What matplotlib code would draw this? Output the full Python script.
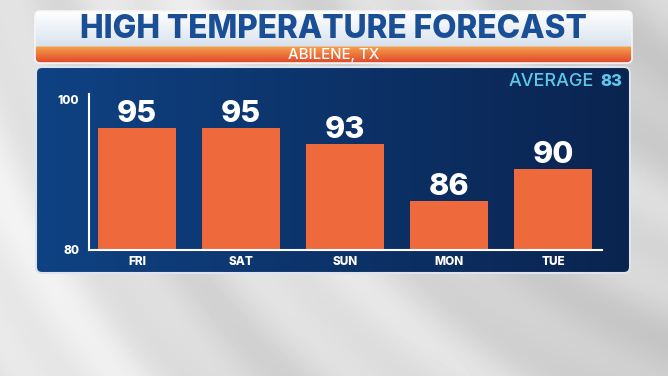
import numpy as np
import matplotlib.pyplot as plt
from matplotlib.patches import FancyBboxPatch
from matplotlib.colors import to_rgb
from matplotlib.transforms import ScaledTranslation

# ─── Data ─────────────────────────────────────────────────────────────────────
days = ["FRI", "SAT", "SUN", "MON", "TUE"]
highs = [95, 95, 93, 86, 90]
avg_high = 83
y_ticks = [80, 100]
title = "HIGH TEMPERATURE FORECAST"
city = "ABILENE, TX"

FONT = "Inter"
W, H = 668, 376


def blend(c1, c2, t):
    c1, c2 = np.array(to_rgb(c1)), np.array(to_rgb(c2))
    t = np.asarray(t)[..., None]
    return c1 * (1 - t) + c2 * t


fig = plt.figure(figsize=(W / 100, H / 100), dpi=100)

# ─── Backdrop (pixel coordinates) ─────────────────────────────────────────────
bg = fig.add_axes([0, 0, 1, 1])
bg.set_xlim(0, W)
bg.set_ylim(H, 0)
bg.axis("off")

xx, yy = np.meshgrid(np.linspace(0, W, 334), np.linspace(0, H, 188))
r = np.hypot(xx - 900, yy + 250)
shade = 0.90 - 0.08 * (xx / W) + 0.035 * np.sin(r / 38.0) + 0.02 * np.sin(r / 13.0)
bg.imshow(np.clip(shade, 0, 1), cmap="gray", vmin=0, vmax=1,
          extent=(0, W, H, 0), aspect="auto", zorder=0)

# ─── Title box ────────────────────────────────────────────────────────────────
tbox = FancyBboxPatch((35, 11), 597, 52, boxstyle="round,pad=0,rounding_size=5",
                      facecolor="none", edgecolor="#f4f6f8", lw=1.2, zorder=3)
bg.add_patch(tbox)
ys = np.linspace(11, 63, 104)
rows = np.where((ys < 46.5)[:, None],
                blend("#ffffff", "#d9e3ee", np.clip((ys - 11) / 35, 0, 1)),
                blend("#f6a24c", "#e0452a", np.clip((ys - 46.5) / 16.5, 0, 1)))
img = np.repeat(rows[:, None, :], 10, axis=1)
im = bg.imshow(img, extent=(35, 632, 63, 11), aspect="auto", zorder=2)
im.set_clip_path(tbox)

bg.text(333.5, 29, title, ha="center", va="center", color="#1a4f96",
        fontsize=22.8, fontweight=800, family=FONT, zorder=4)
bg.text(333.5, 55, city, ha="center", va="center", color="white",
        fontsize=10.8, fontweight=500, family=FONT, zorder=4)

# ─── Blue panel ───────────────────────────────────────────────────────────────
pbox = FancyBboxPatch((36, 67), 594, 206, boxstyle="round,pad=0,rounding_size=6",
                      facecolor="none", edgecolor="#dfe3ea", lw=1.5, zorder=3)
bg.add_patch(pbox)
xs = np.linspace(0, 1, 200)
prow = blend("#0f4283", "#0a2450", xs)
pimg = np.repeat(prow[None, :, :], 10, axis=0)
pim = bg.imshow(pimg, extent=(36, 630, 273, 67), aspect="auto", zorder=2)
pim.set_clip_path(pbox)

bg.text(594, 81, "AVERAGE", ha="right", va="center", color="#5ec8ea",
        fontsize=13, fontweight=500, family=FONT, zorder=4)
bg.text(600, 81, str(avg_high), ha="left", va="center", color="#5ec8ea",
        fontsize=12, fontweight=800, family=FONT, zorder=4)

# ─── Bar chart ────────────────────────────────────────────────────────────────
ax = fig.add_axes([89 / W, (H - 250) / H, (602 - 89) / W, (250 - 87.5) / H])
ax.patch.set_alpha(0)
x = np.arange(len(days))
ax.bar(x, highs, width=0.75, color="#ee6a3c", zorder=2)
ax.set_xlim(-0.4615, 4.47)
ax.set_ylim(y_ticks[0], y_ticks[-1])

for xi, v in zip(x, highs):
    ax.annotate(str(v), (xi, v), xytext=(0, 0), textcoords="offset points",
                ha="center", va="bottom", color="white", fontsize=22,
                fontweight=800, family=FONT)

for s in ("top", "right"):
    ax.spines[s].set_visible(False)
for s in ("left", "bottom"):
    ax.spines[s].set_color("white")
    ax.spines[s].set_linewidth(1.5)
ax.spines["left"].set_bounds(80, 99.2)

ax.set_xticks(x)
ax.set_xticklabels(days)
ax.set_yticks(y_ticks)
ax.set_yticklabels([str(t) for t in y_ticks])
ax.tick_params(length=0, colors="white")
ax.tick_params(axis="x", pad=4)
ax.tick_params(axis="y", pad=7)
for lab in ax.get_xticklabels() + ax.get_yticklabels():
    lab.set_fontweight(800)
    lab.set_family(FONT)
    lab.set_fontsize(8.5)
# the "100" label sits a little below the top of the scale
top_lab = ax.yaxis.get_major_ticks()[-1].label1
top_lab.set_transform(top_lab.get_transform()
                      + ScaledTranslation(0, -12 / 100, fig.dpi_scale_trans))

fig.savefig("out.png", dpi=100)
